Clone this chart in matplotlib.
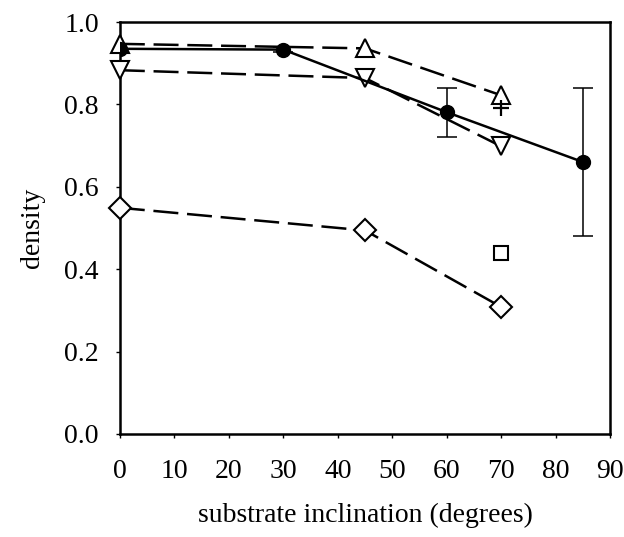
import matplotlib
matplotlib.use("Agg")
import matplotlib.pyplot as plt

plt.rcParams.update({"font.family": ["Liberation Serif", "DejaVu Serif"], "font.size": 20})

# solid series with error bars
solid_x = [0, 30, 60, 85]
solid_y = [0.935, 0.933, 0.781, 0.66]
solid_err = [0.0, 0.006, 0.06, 0.18]

# dashed series
up_x = [0, 45, 70]
up_y = [0.947, 0.936, 0.822]
down_x = [0, 45, 70]
down_y = [0.883, 0.864, 0.698]
diam_x = [0, 45, 70]
diam_y = [0.549, 0.494, 0.308]

# single points
square_x = [70]
square_y = [0.438]
plus_x = [70]
plus_y = [0.792]

EDGE = "black"
DASH = (10, 3.5)

fig = plt.figure(figsize=(6.24, 5.37), dpi=100)
ax = fig.add_axes([0.192, 0.192, 0.786, 0.767])

ax.plot(up_x, up_y, color=EDGE, lw=1.8, dashes=DASH, marker="^", ms=13,
        mfc="white", mec=EDGE, mew=1.5, zorder=3, clip_on=False)
ax.plot(down_x, down_y, color=EDGE, lw=1.8, dashes=DASH, marker="v", ms=13,
        mfc="white", mec=EDGE, mew=1.5, zorder=3, clip_on=False)
ax.plot(diam_x, diam_y, color=EDGE, lw=1.8, dashes=DASH, marker="D", ms=11,
        mfc="white", mec=EDGE, mew=1.5, zorder=3, clip_on=False)
ax.errorbar(solid_x, solid_y, yerr=solid_err, color=EDGE, lw=1.8, marker="o",
            ms=10, mfc=EDGE, mec=EDGE, elinewidth=1.1, capsize=7, capthick=1.1,
            zorder=4)
ax.plot(square_x, square_y, ls="none", marker="s", ms=10, mfc="white",
        mec=EDGE, mew=1.5, zorder=3)
ax.plot(plus_x, plus_y, ls="none", marker="+", ms=12, mec=EDGE, mew=1.6,
        zorder=3)

ax.set_xlim(0, 90)
ax.set_ylim(0, 1.0)
ax.set_xticks(range(0, 91, 10))
ax.set_yticks([0.0, 0.2, 0.4, 0.6, 0.8, 1.0])
ax.set_yticklabels(["0.0", "0.2", "0.4", "0.6", "0.8", "1.0"])
ax.tick_params(direction="out", length=3, width=1)
ax.tick_params(axis="x", pad=15)
ax.tick_params(axis="y", pad=12)
for s in ax.spines.values():
    s.set_linewidth(1.8)

ax.set_xlabel("substrate inclination (degrees)", labelpad=14)
ax.set_ylabel("density", labelpad=14)

fig.savefig("out.png", dpi=100)
